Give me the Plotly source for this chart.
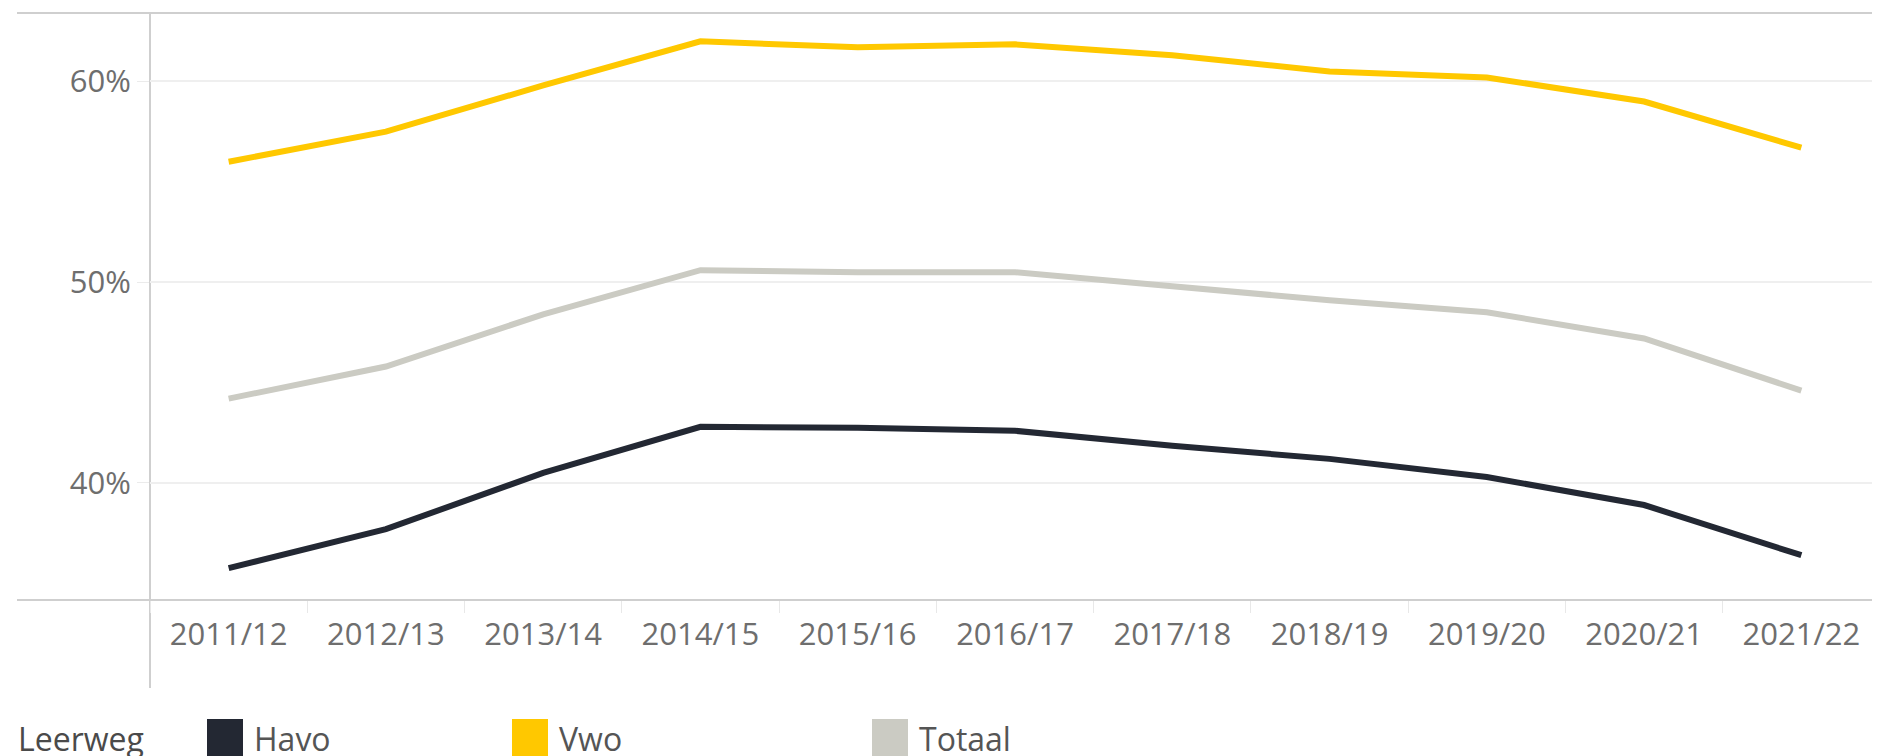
import plotly.graph_objects as go

years = ["2011/12", "2012/13", "2013/14", "2014/15", "2015/16", "2016/17",
         "2017/18", "2018/19", "2019/20", "2020/21", "2021/22"]
havo = [0.3576, 0.377, 0.405, 0.428, 0.4275, 0.426, 0.4185, 0.412, 0.403, 0.389, 0.364]
vwo = [0.560, 0.575, 0.598, 0.620, 0.617, 0.6185, 0.613, 0.605, 0.602, 0.590, 0.567]
totaal = [0.442, 0.458, 0.484, 0.506, 0.505, 0.505, 0.498, 0.491, 0.485, 0.472, 0.446]

series_names = ["Havo", "Vwo", "Totaal"]
series_colors = ["#232833", "#ffc800", "#cbcbc3"]
legend_title = "Leerweg"

# page offset (default body margin) compensation
OFF = 8
W, H = 1880 - OFF, 756 - OFF
PX0, PX1 = 150, 1880   # plot area in page pixels (x)
PY0, PY1 = 13, 600     # plot area in page pixels (y)
L, R, T, B = PX0 - OFF, 0, PY0 - OFF, H - (PY1 - OFF)
PW, PH = PX1 - PX0, PY1 - PY0

def px_x(p):
    return (p - PX0) / PW

def px_y(p):
    return (PY1 - p) / PH

fig = go.Figure()
for name, vals, col in [("Totaal", totaal, series_colors[2]),
                        ("Havo", havo, series_colors[0]),
                        ("Vwo", vwo, series_colors[1])]:
    fig.add_trace(go.Scatter(x=years, y=vals, mode="lines", name=name,
                             line=dict(color=col, width=6), showlegend=False))

font_family = "Open Sans, Arial, sans-serif"
tick_color = "#6e6e6e"

fig.update_layout(
    width=W, height=H,
    margin=dict(l=L, r=R, t=T, b=B, pad=0),
    paper_bgcolor="white", plot_bgcolor="white",
    font=dict(family=font_family, size=31, color=tick_color),
    xaxis=dict(type="category", range=[-0.5, 10.5], showgrid=False, zeroline=False,
               showline=False, ticks="outside", tickson="boundaries", ticklen=12,
               tickcolor="#e8e8e8", tickwidth=1, ticklabelstandoff=13,
               tickfont=dict(size=31, color=tick_color)),
    yaxis=dict(range=[0.3417, 0.6341], tickvals=[0.4, 0.5, 0.6], tickformat=".0%",
               showgrid=True, gridcolor="#efefef", gridwidth=1.5, zeroline=False,
               showline=False, ticks="outside", ticklen=12, tickcolor="#ebebeb",
               tickfont=dict(size=31, color=tick_color)),
)

line_col = "#cfcfcf"
shapes = [
    dict(type="line", xref="paper", yref="paper", x0=px_x(17), x1=1, y0=1, y1=1,
         line=dict(color=line_col, width=2), layer="below"),
    dict(type="line", xref="paper", yref="paper", x0=px_x(17), x1=1, y0=0, y1=0,
         line=dict(color=line_col, width=2), layer="below"),
    dict(type="line", xref="paper", yref="paper", x0=0, x1=0, y0=1, y1=px_y(688),
         line=dict(color=line_col, width=2), layer="below"),
]

TEXT_Y = 738
annotations = [
    dict(text=legend_title, xref="paper", yref="paper", x=px_x(16), y=px_y(TEXT_Y),
         xanchor="left", yanchor="middle", showarrow=False,
         font=dict(size=32, color="#4a4a4a")),
]
sq_x = [207, 512, 872]
for name, col, sx in zip(series_names, series_colors, sq_x):
    shapes.append(dict(type="rect", xref="paper", yref="paper",
                       x0=px_x(sx), x1=px_x(sx + 36), y0=px_y(719), y1=px_y(760),
                       fillcolor=col, line=dict(width=0)))
    annotations.append(dict(text=name, xref="paper", yref="paper", x=px_x(sx + 45),
                            y=px_y(TEXT_Y), xanchor="left", yanchor="middle",
                            showarrow=False, font=dict(size=32, color="#555555")))

fig.update_layout(shapes=shapes, annotations=annotations)
fig.write_html("out.html")
